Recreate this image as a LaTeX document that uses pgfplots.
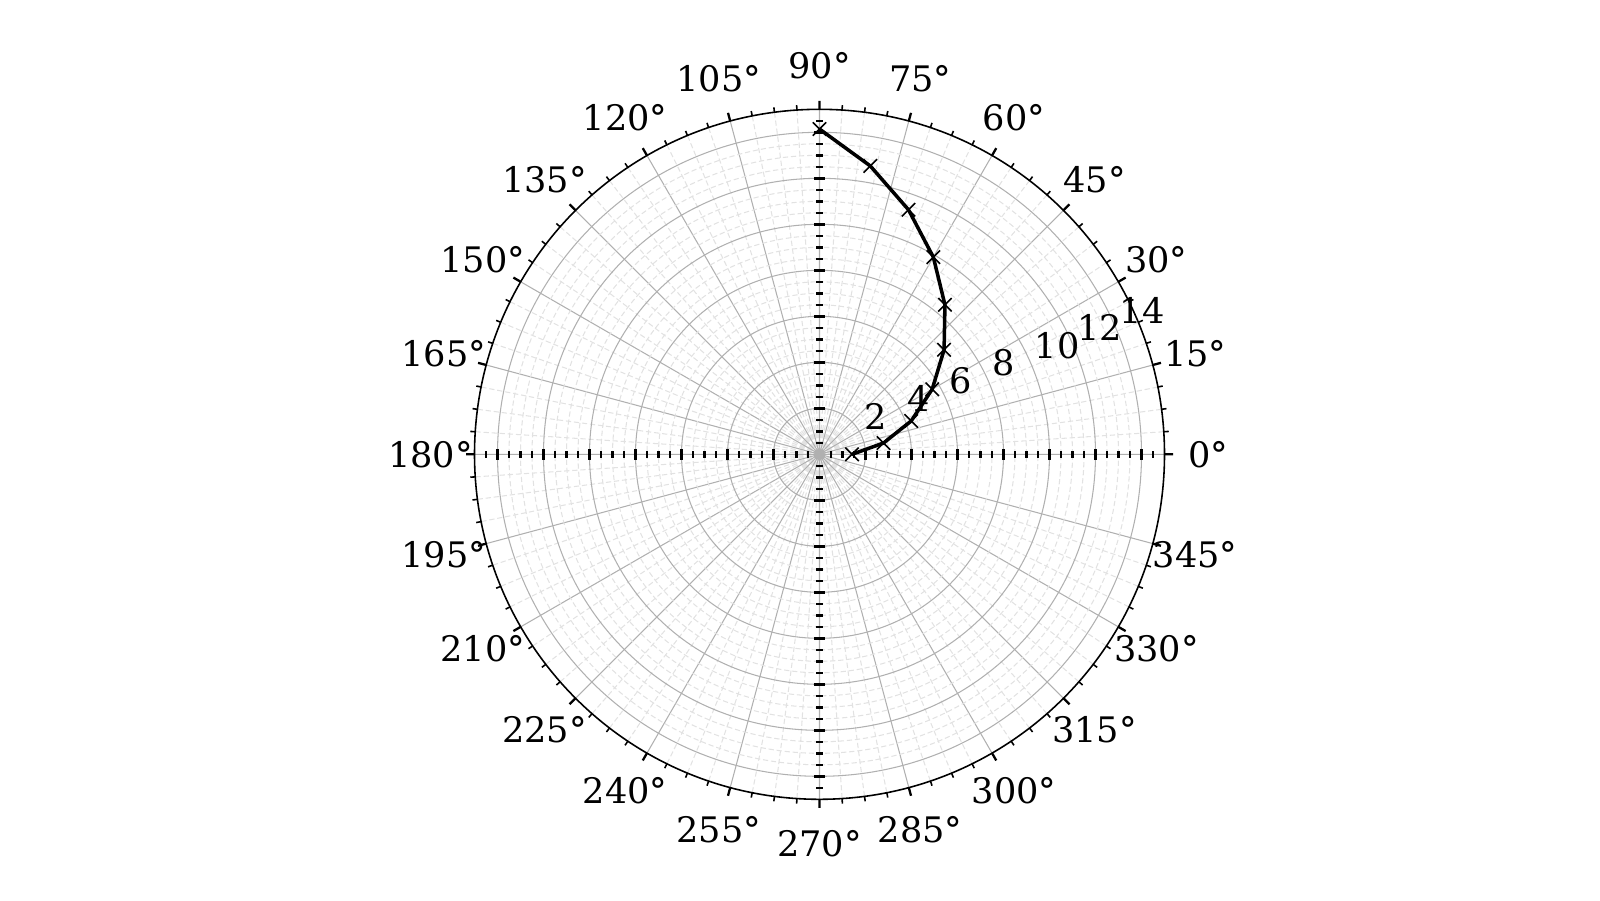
\documentclass[border=0pt]{standalone}
\usepackage{fontspec}
\setmainfont{DejaVu Serif}
\usepackage{pgfplots}
\pgfplotsset{compat=1.18}
\usepgfplotslibrary{polar}
\definecolor{majgrid}{HTML}{B0B0B0}
\definecolor{mingrid}{HTML}{E2E2E2}
\tikzset{
  hmaj/.style={fill=black, draw=none, inner sep=0pt, outer sep=0pt, minimum width=0.03cm, minimum height=0.11cm},
  hmin/.style={fill=black, draw=none, inner sep=0pt, outer sep=0pt, minimum width=0.024cm, minimum height=0.066cm},
  vmaj/.style={fill=black, draw=none, inner sep=0pt, outer sep=0pt, minimum height=0.03cm, minimum width=0.11cm},
  vmin/.style={fill=black, draw=none, inner sep=0pt, outer sep=0pt, minimum height=0.024cm, minimum width=0.066cm},
}
\begin{document}
\begin{tikzpicture}
\useasboundingbox (0,0) rectangle (16cm,9cm);
\begin{polaraxis}[
  at={(8.195cm,4.457cm)}, anchor=center,
  scale only axis, width=6.9cm, height=6.9cm,
  xmin=0, xmax=360, ymin=0, ymax=15,
  clip=false,
  xtick={0,15,...,345},
  xticklabels={0°,15°,30°,45°,60°,75°,90°,105°,120°,135°,150°,165°,180°,195°,210°,225°,240°,255°,270°,285°,300°,315°,330°,345°},
  minor x tick num=3,
  ytick={2,4,...,14},
  minor y tick num=3,
  yticklabels={},
  grid=both,
  major grid style={majgrid, line width=0.3pt},
  minor grid style={mingrid, line width=0.3pt, dash pattern=on 1.5pt off 0.8pt},
  separate axis lines,
  x axis line style={black, line width=0.45pt},
  y axis line style={draw=none},
  tick align=inside,
  major tick length=0.085cm,
  minor tick length=0.05cm,
  every major x tick/.append style={line width=0.65pt, black},
  every minor x tick/.append style={line width=0.45pt, black},
  every y tick/.append style={draw=none},
  every major y tick/.append style={draw=none},
  every minor y tick/.append style={draw=none},
  xticklabel style={anchor=center, inner sep=0pt, shift={(\tick:0.44cm)}},
]
\pgfplotsinvokeforeach{2,4,6,8,10,12,14}{
  \node[hmaj] at (axis cs:0,#1) {};
  \node[hmaj] at (axis cs:180,#1) {};
  \node[vmaj] at (axis cs:90,#1) {};
  \node[vmaj] at (axis cs:270,#1) {};
  \node[anchor=south west, inner sep=0pt, xshift=0.02cm, yshift=0.07cm] at (axis cs:22.5,#1) {#1};
}
\pgfplotsinvokeforeach{0.5,1,1.5,2.5,3,3.5,4.5,5,5.5,6.5,7,7.5,8.5,9,9.5,10.5,11,11.5,12.5,13,13.5,14.5}{
  \node[hmin] at (axis cs:0,#1) {};
  \node[hmin] at (axis cs:180,#1) {};
  \node[vmin] at (axis cs:90,#1) {};
  \node[vmin] at (axis cs:270,#1) {};
}
\addplot[black, line width=1pt, mark=x, mark size=2.7pt, mark options={line width=0.45pt, solid}]
  coordinates {(0,1.414) (10,2.828) (20,4.243) (30,5.657) (40,7.071) (50,8.485) (60,9.899) (70,11.314) (80,12.728) (90,14.142)};
\end{polaraxis}
\end{tikzpicture}
\end{document}
